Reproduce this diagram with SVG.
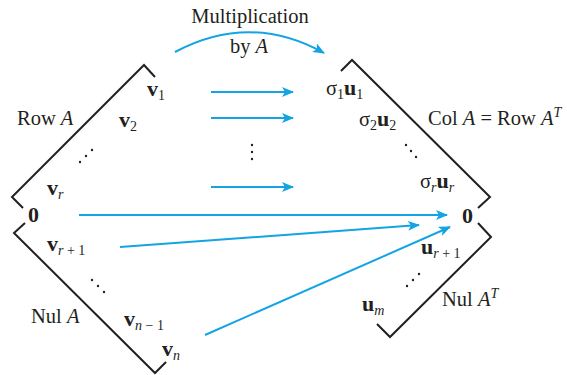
<svg xmlns="http://www.w3.org/2000/svg" width="567" height="375" viewBox="0 0 567 375">
<style>
text{font-family:"Liberation Serif","Times New Roman",serif;font-size:20.5px;fill:#231f20}
.b{font-weight:bold;font-size:22px}
.n{font-weight:normal}
.i{font-style:italic}
.s{font-size:14px}
.br{fill:none;stroke:#231f20;stroke-width:2}
.ar{fill:none;stroke:#12a4e3;stroke-width:2}
.dot{fill:#231f20}
</style>
<defs>
<marker id="ah" viewBox="0 0 12 10" refX="11" refY="5" markerWidth="12" markerHeight="10" orient="auto" markerUnits="userSpaceOnUse">
<path d="M0,0 L12,5 L0,10 L3,5 z" fill="#12a4e3"/>
</marker>
</defs>
<rect width="567" height="375" fill="#fff"/>

<g id="brackets">
<path class="br" d="M155,77 L144,65 L12,197 L23,208"/>
<path class="br" d="M25,223 L14,233 L155,373 L166,362"/>
<path class="br" d="M341,71 L352,60 L490,197 L478,208"/>
<path class="br" d="M478,223 L491,237 L390,337 L377,324"/>
</g>

<g id="connectors">
<path class="ar" d="M175,52 Q250,12 324,53" marker-end="url(#ah)"/>
<line class="ar" x1="211" y1="92" x2="293" y2="92" marker-end="url(#ah)"/>
<line class="ar" x1="211" y1="118" x2="293" y2="118" marker-end="url(#ah)"/>
<circle class="dot" cx="252" cy="145" r="1.2"/><circle class="dot" cx="252" cy="152" r="1.2"/><circle class="dot" cx="252" cy="159" r="1.2"/>
<line class="ar" x1="211" y1="187" x2="293" y2="187" marker-end="url(#ah)"/>
<line class="ar" x1="79" y1="215" x2="447" y2="215" marker-end="url(#ah)"/>
<line class="ar" x1="120" y1="247" x2="419" y2="225" marker-end="url(#ah)"/>
<line class="ar" x1="205" y1="335" x2="450" y2="227" marker-end="url(#ah)"/>
</g>

<g id="title">
<text x="250" y="23" text-anchor="middle">Multiplication</text>
<text x="249" y="53" text-anchor="middle">by <tspan class="i">A</tspan></text>
</g>

<g id="rowA">
<text x="17" y="125">Row <tspan class="i">A</tspan></text>
<text x="147" y="96" class="b">v<tspan class="s n" dy="4">1</tspan></text>
<text x="119" y="127" class="b">v<tspan class="s n" dy="4">2</tspan></text>
<circle class="dot" cx="80" cy="162" r="1.2"/><circle class="dot" cx="86" cy="156" r="1.2"/><circle class="dot" cx="92" cy="150" r="1.2"/>
<text x="47" y="195" class="b">v<tspan class="s i n" dy="4">r</tspan></text>
</g>

<g id="zeroLeft">
<text x="28" y="222" class="b">0</text>
</g>

<g id="nulA">
<text x="47" y="251" class="b">v<tspan class="s n" dy="4"><tspan class="i">r</tspan> + 1</tspan></text>
<circle class="dot" cx="92" cy="280" r="1.2"/><circle class="dot" cx="98" cy="286" r="1.2"/><circle class="dot" cx="104" cy="292" r="1.2"/>
<text x="31" y="323">Nul <tspan class="i">A</tspan></text>
<text x="124" y="326" class="b">v<tspan class="s n" dy="4"><tspan class="i">n</tspan> − 1</tspan></text>
<text x="162" y="356" class="b">v<tspan class="s i n" dy="4">n</tspan></text>
</g>

<g id="colA">
<text x="326" y="95">σ<tspan class="s" dy="4">1</tspan><tspan class="b" dy="-4">u</tspan><tspan class="s" dy="4">1</tspan></text>
<text x="359" y="126">σ<tspan class="s" dy="4">2</tspan><tspan class="b" dy="-4">u</tspan><tspan class="s" dy="4">2</tspan></text>
<text x="428" y="125">Col <tspan class="i">A</tspan> = Row <tspan class="i">A</tspan><tspan class="s i" dy="-8">T</tspan></text>
<circle class="dot" cx="406" cy="145" r="1.2"/><circle class="dot" cx="411" cy="151" r="1.2"/><circle class="dot" cx="416" cy="157" r="1.2"/>
<text x="420" y="188">σ<tspan class="s i" dy="4">r</tspan><tspan class="b" dy="-4">u</tspan><tspan class="s i" dy="4">r</tspan></text>
</g>

<g id="zeroRight">
<text x="462" y="223" class="b">0</text>
</g>

<g id="nulAT">
<text x="421" y="254" class="b">u<tspan class="s n" dy="4"><tspan class="i">r</tspan> + 1</tspan></text>
<circle class="dot" cx="407" cy="286" r="1.2"/><circle class="dot" cx="413" cy="280" r="1.2"/><circle class="dot" cx="419" cy="274" r="1.2"/>
<text x="442" y="306">Nul <tspan class="i">A</tspan><tspan class="s i" dy="-8">T</tspan></text>
<text x="362" y="311" class="b">u<tspan class="s i n" dy="4">m</tspan></text>
</g>
</svg>
